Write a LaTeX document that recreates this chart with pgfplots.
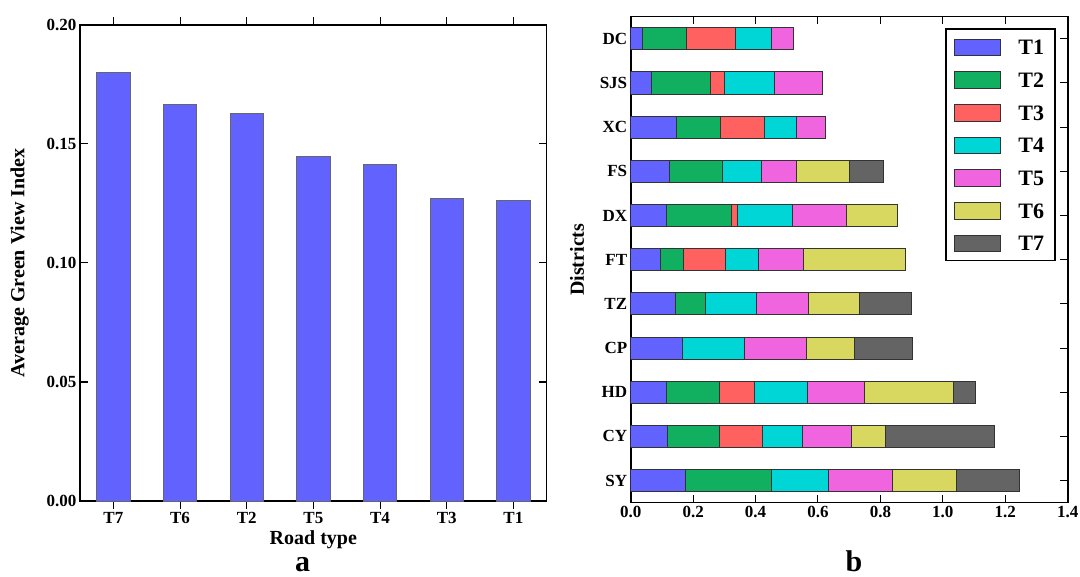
\documentclass[border=0pt]{standalone}
\usepackage{fontspec}
\setmainfont{Liberation Serif}
\usepackage{pgfplots}
\usepackage{pgfplotstable}
\pgfplotsset{compat=1.18}

\definecolor{cT1}{RGB}{98,98,255}
\definecolor{cT2}{RGB}{16,176,96}
\definecolor{cT3}{RGB}{255,96,96}
\definecolor{cT4}{RGB}{0,214,214}
\definecolor{cT5}{RGB}{240,100,224}
\definecolor{cT6}{RGB}{216,216,96}
\definecolor{cT7}{RGB}{100,100,100}

\pgfplotstableread{
x v
0 0.1801
1 0.1664
2 0.1627
3 0.1446
4 0.1412
5 0.1272
6 0.1261
}\roadtype

\pgfplotstableread{
y T1 T2 T3 T4 T5 T6 T7
0 0.175 0.276 0 0.184 0.204 0.204 0.203
1 0.118 0.168 0.135 0.129 0.157 0.109 0.349
2 0.116 0.170 0.110 0.170 0.184 0.284 0.072
3 0.166 0 0 0.198 0.199 0.155 0.185
4 0.145 0.096 0 0.163 0.167 0.161 0.168
5 0.096 0.072 0.135 0.108 0.143 0.327 0
6 0.116 0.206 0.021 0.174 0.174 0.163 0
7 0.123 0.172 0 0.123 0.112 0.170 0.109
8 0.148 0.141 0.140 0.101 0.094 0 0
9 0.067 0.190 0.043 0.161 0.152 0 0
10 0.037 0.142 0.156 0.117 0.068 0 0
}\districts

\pgfplotsset{
  common/.style={
    scale only axis,
    tick align=inside,
    major tick length=7.5pt,
    minor tick num=0,
    axis line style={line width=1.6pt, black},
    major tick style={line width=1pt, black},
    tick label style={font=\fontsize{17}{17}\selectfont\bfseries},
    /pgf/number format/assume math mode=true,
    label style={font=\fontsize{20}{20}\selectfont\bfseries},
  }
}

\begin{document}
\begin{tikzpicture}
\useasboundingbox (0pt,0pt) rectangle (1080pt,-577pt);
\begin{axis}[
  common,
  at={(80pt,-501pt)}, anchor=south west,
  width=466.7pt, height=476pt,
  ybar, bar width=0.5,
  xmin=-0.5, xmax=6.5, ymin=0, ymax=0.2,
  xtick={0,1,2,3,4,5,6}, xticklabels={T7,T6,T2,T5,T4,T3,T1},
  ytick={0,0.05,0.1,0.15,0.2},
  yticklabel style={/pgf/number format/.cd, fixed, fixed zerofill, precision=2},
  xlabel={Road type},
  xlabel style={at={(axis description cs:0.5,-0.0924)}, anchor=base},
  ylabel={Average Green View Index},
  ylabel style={at={(axis description cs:-0.1296,0.5)}, anchor=center},
]
\addplot[fill=cT1, draw=black!60, line width=1pt, bar shift=0pt] table[x=x, y=v] {\roadtype};
\end{axis}

\begin{axis}[
  common,
  at={(630.7pt,-502.7pt)}, anchor=south west,
  width=437pt, height=486pt,
  xbar stacked, bar width=0.5,
  xmin=0, xmax=1.4, ymin=-0.5, ymax=10.5,
  xtick={0,0.2,0.4,0.6,0.8,1.0,1.2,1.4},
  xticklabel style={/pgf/number format/.cd, fixed, fixed zerofill, precision=1},
  ytick={0,1,2,3,4,5,6,7,8,9,10},
  yticklabels={SY,CY,HD,CP,TZ,FT,DX,FS,XC,SJS,DC},
  ylabel={Districts},
  ylabel style={at={(axis description cs:-0.1229,0.5)}, anchor=center},
  every axis plot post/.append style={
    legend image code/.code={\draw[##1, line width=1pt] (0pt,-9pt) rectangle (46.7pt,7.5pt);}
  },
  legend cell align=left,
  legend style={
    at={(rel axis cs:0.973,0.976)}, anchor=north east,
    draw=black, line width=1.5pt, fill=white,
    font=\fontsize{22}{22}\selectfont\bfseries,
    inner xsep=8pt, inner ysep=6.5pt,
    row sep=10.7pt, column sep=14pt,
    nodes={inner xsep=3pt, inner ysep=3pt, text height=16pt, text depth=0pt},
  },
]
\addplot[fill=cT1, draw=black!80, line width=1pt] table[x=T1, y=y] {\districts};
\addplot[fill=cT2, draw=black!80, line width=1pt] table[x=T2, y=y] {\districts};
\addplot[fill=cT3, draw=black!80, line width=1pt] table[x=T3, y=y] {\districts};
\addplot[fill=cT4, draw=black!80, line width=1pt] table[x=T4, y=y] {\districts};
\addplot[fill=cT5, draw=black!80, line width=1pt] table[x=T5, y=y] {\districts};
\addplot[fill=cT6, draw=black!80, line width=1pt] table[x=T6, y=y] {\districts};
\addplot[fill=cT7, draw=black!80, line width=1pt] table[x=T7, y=y] {\districts};
\legend{T1,T2,T3,T4,T5,T6,T7}
\end{axis}

\node[anchor=base, font=\fontsize{30}{30}\selectfont\bfseries] at (302.5pt,-571pt) {a};
\node[anchor=base, font=\fontsize{30}{30}\selectfont\bfseries] at (854pt,-571pt) {b};
\end{tikzpicture}
\end{document}
